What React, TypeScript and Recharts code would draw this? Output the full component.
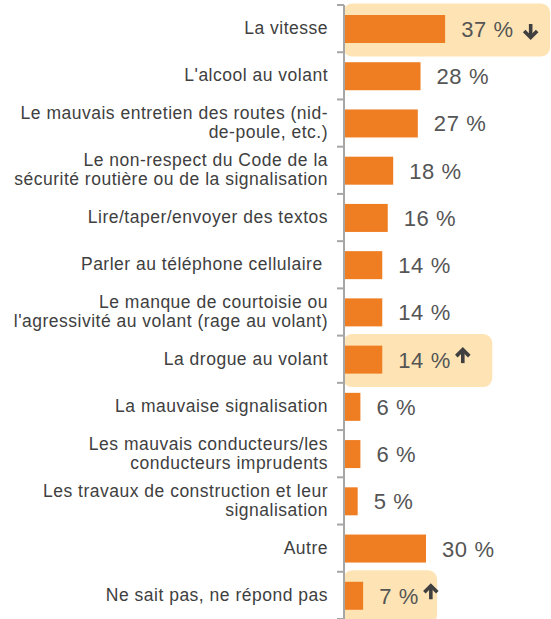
import { BarChart, Bar, XAxis, YAxis, LabelList } from "recharts";

const categories = [
  "La vitesse",
  "L'alcool au volant",
  "Le mauvais entretien des routes (nid-\nde-poule, etc.)",
  "Le non-respect du Code de la\nsécurité routière ou de la signalisation",
  "Lire/taper/envoyer des textos",
  "Parler au téléphone cellulaire\u00a0",
  "Le manque de courtoisie ou\nl'agressivité au volant (rage au volant)",
  "La drogue au volant",
  "La mauvaise signalisation",
  "Les mauvais conducteurs/les\nconducteurs imprudents",
  "Les travaux de construction et leur\nsignalisation",
  "Autre",
  "Ne sait pas, ne répond pas",
];

const values = [37, 28, 27, 18, 16, 14, 14, 14, 6, 6, 5, 30, 7];

// trend arrows shown next to some values
const trends: Record<string, "up" | "down"> = {
  "La vitesse": "down",
  "La drogue au volant": "up",
  "Ne sait pas, ne répond pas": "up",
};

// how far the highlight box runs past the bar end
const boxPad: Record<string, number> = {
  "La vitesse": 106,
  "La drogue au volant": 111,
  "Ne sait pas, ne répond pas": 75,
};

const data = categories.map((name, i) => ({ name, value: values[i] }));

const W = 551;
const H = 619;
const TOP = 5;
const BAND = (H - TOP) / categories.length;
const ORANGE = "#EF7D22";
const AXIS = "#A6A6A6";
const VALUE_FONT = 22;
const VALUE_LS = 0.6;

const textWidth = (s: string) => {
  let w = 0;
  for (const ch of s) {
    if (ch === " ") w += 0.278;
    else if (ch === "%") w += 0.889;
    else w += 0.556;
  }
  return w * VALUE_FONT + s.length * VALUE_LS;
};

const CategoryTick = (props: any) => {
  const { x, y, payload, index } = props;
  const lines = String(payload.value).split("\n");
  const axisX = x + 16;
  const first = y + 5.5 - (lines.length - 1) * 9.5;
  return (
    <g>
      <line x1={axisX - 7} x2={axisX} y1={y - BAND / 2} y2={y - BAND / 2} stroke={AXIS} strokeWidth={2} />
      {index === categories.length - 1 && (
        <line x1={axisX - 7} x2={axisX} y1={y + BAND / 2} y2={y + BAND / 2} stroke={AXIS} strokeWidth={2} />
      )}
      <text
        x={x}
        y={first}
        textAnchor="end"
        fill="#404040"
        fontSize={17.5}
        letterSpacing={0.5}
        fontFamily="'Liberation Sans', Arial, sans-serif"
      >
        {lines.map((l, i) => (
          <tspan key={i} x={x} y={first + i * 19}>
            {l}
          </tspan>
        ))}
      </text>
    </g>
  );
};

const BarWithBox = (props: any) => {
  const { x, y, width, height, index } = props;
  const name = categories[index];
  const cy = y + height / 2;
  const pad = boxPad[name];
  return (
    <g>
      {pad !== undefined && (
        <rect x={x - 1} y={cy - 25.5} width={width + pad} height={53} rx={9} fill="#FEE4B4" />
      )}
      <rect x={x} y={y} width={width} height={height} fill={ORANGE} />
    </g>
  );
};

const Arrow = ({ cx, cy, dir }: { cx: number; cy: number; dir: "up" | "down" }) => {
  const s = dir === "up" ? 1 : -1;
  return (
    <g stroke="#404040" strokeWidth={3.6} fill="none">
      <path d={`M${cx},${cy + 7.5 * s} L${cx},${cy - 5.5 * s}`} />
      <path d={`M${cx - 6.5},${cy + 0.5 * s} L${cx},${cy - 6 * s} L${cx + 6.5},${cy + 0.5 * s}`} />
    </g>
  );
};

const ValueLabel = (props: any) => {
  const { x, y, width, height, value, index } = props;
  const name = categories[index];
  const cy = y + height / 2;
  const tx = x + width + 16;
  const txt = `${value} %`;
  const tw = textWidth(txt);
  const trend = trends[name];
  return (
    <g>
      <text
        x={tx}
        y={cy + 8}
        fill="#555555"
        fontSize={VALUE_FONT}
        letterSpacing={VALUE_LS}
        fontFamily="'Liberation Sans', Arial, sans-serif"
      >
        {txt}
      </text>
      {trend === "up" && <Arrow cx={tx + tw + 12} cy={cy - 4} dir="up" />}
      {trend === "down" && <Arrow cx={tx + tw + 17} cy={cy + 2.5} dir="down" />}
    </g>
  );
};

export default function App() {
  return (
    <div style={{ position: "absolute", left: 0, top: 0, width: W, height: H, background: "#fff" }}>
      <BarChart
        width={W}
        height={H}
        data={data}
        layout="vertical"
        margin={{ top: TOP, right: 2, bottom: 0, left: 0 }}
      >
        <XAxis type="number" domain={[0, 75]} hide />
        <YAxis
          type="category"
          dataKey="name"
          width={344}
          interval={0}
          tickLine={false}
          tickSize={6}
          tickMargin={10}
          axisLine={{ stroke: AXIS, strokeWidth: 2 }}
          tick={<CategoryTick />}
        />
        <Bar dataKey="value" barSize={28} fill={ORANGE} shape={<BarWithBox />} isAnimationActive={false}>
          <LabelList dataKey="value" content={<ValueLabel />} />
        </Bar>
      </BarChart>
    </div>
  );
}
